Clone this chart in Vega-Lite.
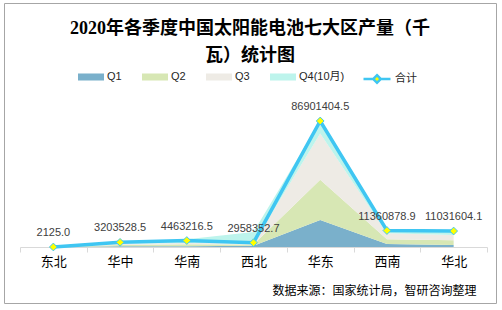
{
  "$schema": "https://vega.github.io/schema/vega-lite/v6.json",
  "autosize": {"type": "none"},
  "width": 492,
  "height": 300,
  "padding": {"left": 4, "top": 3, "right": 6, "bottom": 7},
  "background": "white",
  "config": {
    "view": {"stroke": "#A6A6A6", "strokeWidth": 1},
    "font": "Liberation Sans, Noto Sans CJK SC"
  },
  "title": {
    "text": ["2020年各季度中国太阳能电池七大区产量（千", "瓦）统计图"],
    "font": "Liberation Serif, Noto Sans CJK SC",
    "fontSize": 18,
    "fontWeight": "bold",
    "color": "#000000",
    "anchor": "middle",
    "frame": "group",
    "orient": "top",
    "baseline": "top",
    "offset": -62,
    "lineHeight": 27
  },
  "datasets": {
    "quarters": [
      {"region": "东北", "quarter": "Q1", "value": 500},
      {"region": "东北", "quarter": "Q2", "value": 600},
      {"region": "东北", "quarter": "Q3", "value": 500},
      {"region": "东北", "quarter": "Q4(10月)", "value": 525},
      {"region": "华中", "quarter": "Q1", "value": 500000},
      {"region": "华中", "quarter": "Q2", "value": 900000},
      {"region": "华中", "quarter": "Q3", "value": 800000},
      {"region": "华中", "quarter": "Q4(10月)", "value": 1000000},
      {"region": "华南", "quarter": "Q1", "value": 600000},
      {"region": "华南", "quarter": "Q2", "value": 1300000},
      {"region": "华南", "quarter": "Q3", "value": 800000},
      {"region": "华南", "quarter": "Q4(10月)", "value": 2600000},
      {"region": "西北", "quarter": "Q1", "value": 900000},
      {"region": "西北", "quarter": "Q2", "value": 900000},
      {"region": "西北", "quarter": "Q3", "value": 600000},
      {"region": "西北", "quarter": "Q4(10月)", "value": 8000000},
      {"region": "华东", "quarter": "Q1", "value": 18600000},
      {"region": "华东", "quarter": "Q2", "value": 27800000},
      {"region": "华东", "quarter": "Q3", "value": 31800000},
      {"region": "华东", "quarter": "Q4(10月)", "value": 8700000},
      {"region": "西南", "quarter": "Q1", "value": 2000000},
      {"region": "西南", "quarter": "Q2", "value": 3400000},
      {"region": "西南", "quarter": "Q3", "value": 4100000},
      {"region": "西南", "quarter": "Q4(10月)", "value": 1860000},
      {"region": "华北", "quarter": "Q1", "value": 1400000},
      {"region": "华北", "quarter": "Q2", "value": 3200000},
      {"region": "华北", "quarter": "Q3", "value": 3600000},
      {"region": "华北", "quarter": "Q4(10月)", "value": 2830000}
    ],
    "totals": [
      {"region": "东北", "series": "合计", "value": 2125.0},
      {"region": "华中", "series": "合计", "value": 3203528.5},
      {"region": "华南", "series": "合计", "value": 4463216.5},
      {"region": "西北", "series": "合计", "value": 2958352.7},
      {"region": "华东", "series": "合计", "value": 86901404.5},
      {"region": "西南", "series": "合计", "value": 11360878.9},
      {"region": "华北", "series": "合计", "value": 11031604.1}
    ]
  },
  "layer": [
    {
      "data": {"name": "quarters"},
      "mark": {"type": "area", "interpolate": "linear"},
      "encoding": {
        "x": {
          "field": "region",
          "type": "nominal",
          "sort": ["东北", "华中", "华南", "西北", "华东", "西南", "华北"],
          "bandPosition": 0.5,
          "scale": {"type": "band", "range": [16, 483], "paddingInner": 0, "paddingOuter": 0},
          "axis": {
            "title": "数据来源：国家统计局，智研咨询整理",
            "titleFont": "Noto Sans CJK SC",
            "titleFontSize": 12,
            "titleFontWeight": "normal",
            "titleColor": "#000000",
            "titleAnchor": "end",
            "titleAlign": "right",
            "titleX": 472,
            "titleY": 43,
            "titleBaseline": "middle",
            "offset": -56,
            "tickBand": "extent",
            "domainColor": "#D9D9D9",
            "tickColor": "#D9D9D9",
            "tickSize": 5,
            "labelFont": "Noto Sans CJK SC",
            "labelFontSize": 13,
            "labelColor": "#000000",
            "labelAngle": 0,
            "labelPadding": 3
          }
        },
        "y": {
          "field": "value",
          "type": "quantitative",
          "stack": "zero",
          "scale": {"domain": [0, 100000000], "range": [244, 99], "nice": false, "zero": true},
          "axis": null
        },
        "fill": {
          "field": "quarter",
          "type": "nominal",
          "scale": {
            "domain": ["Q1", "Q2", "Q3", "Q4(10月)"],
            "range": ["#7AB0CB", "#D7E7B4", "#EEEBE5", "#BDF4EC"]
          },
          "legend": {
            "orient": "none",
            "legendX": 74,
            "legendY": 61,
            "direction": "horizontal",
            "title": null,
            "symbolType": "M-1,-0.27H1V0.27H-1Z",
            "symbolSize": 676,
            "symbolStrokeWidth": 0,
            "symbolOpacity": 1,
            "labelFont": "Liberation Sans, Noto Sans CJK SC",
            "labelFontSize": 11,
            "labelColor": "#262626",
            "labelOffset": 3,
            "columnPadding": 20,
            "padding": 0
          }
        },
        "order": {"field": "quarter", "type": "ordinal", "sort": "ascending"}
      }
    },
    {
      "data": {"name": "totals"},
      "mark": {"type": "line", "strokeWidth": 3.5},
      "encoding": {
        "x": {"field": "region", "type": "nominal", "sort": ["东北", "华中", "华南", "西北", "华东", "西南", "华北"], "bandPosition": 0.5},
        "y": {"field": "value", "type": "quantitative"},
        "stroke": {
          "field": "series",
          "type": "nominal",
          "scale": {"domain": ["合计"], "range": ["#3FC6F2"]},
          "legend": {
            "orient": "none",
            "legendX": 358,
            "legendY": 61,
            "title": null,
            "symbolType": "M-1,0H-0.28M0.28,0H1M0,-0.28L0.28,0L0,0.28L-0.28,0Z",
            "symbolSize": 729,
            "symbolStrokeWidth": 2.5,
            "symbolFillColor": "#FFFF00",
            "labelFont": "Liberation Sans, Noto Sans CJK SC",
            "labelFontSize": 11,
            "labelColor": "#262626",
            "labelOffset": 3,
            "padding": 0
          }
        }
      }
    },
    {
      "data": {"name": "totals"},
      "mark": {"type": "point", "shape": "diamond", "filled": true, "fill": "#FFFF00", "stroke": "#3FC6F2", "strokeWidth": 1, "size": 60, "opacity": 1},
      "encoding": {
        "x": {"field": "region", "type": "nominal", "sort": ["东北", "华中", "华南", "西北", "华东", "西南", "华北"], "bandPosition": 0.5},
        "y": {"field": "value", "type": "quantitative"}
      }
    },
    {
      "data": {"name": "totals"},
      "mark": {"type": "text", "dy": -14, "fontSize": 11, "color": "#404040", "font": "Liberation Sans"},
      "encoding": {
        "x": {"field": "region", "type": "nominal", "sort": ["东北", "华中", "华南", "西北", "华东", "西南", "华北"], "bandPosition": 0.5},
        "y": {"field": "value", "type": "quantitative"},
        "text": {"field": "value", "type": "quantitative", "format": ".1f"}
      }
    }
  ]
}
